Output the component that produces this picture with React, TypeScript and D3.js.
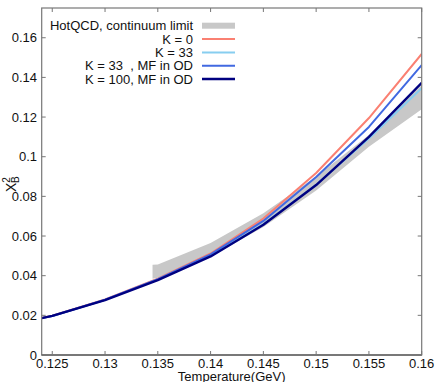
import React from "react";
import * as d3 from "d3";

const temps = [0.124, 0.125, 0.13, 0.135, 0.14, 0.145, 0.15, 0.155, 0.16];
const k0 = [0.0187, 0.0198, 0.028, 0.0385, 0.0512, 0.0688, 0.0918, 0.1195, 0.1518];
const k33 = [0.0186, 0.0197, 0.0278, 0.038, 0.05, 0.066, 0.0858, 0.1092, 0.1346];
const k33mf = [0.0186, 0.0197, 0.0279, 0.0382, 0.0507, 0.0676, 0.0898, 0.115, 0.1462];
const k100mf = [0.0186, 0.0197, 0.0277, 0.0378, 0.0497, 0.0657, 0.0857, 0.11, 0.1372];

const bandT = [0.1345, 0.135, 0.14, 0.145, 0.15, 0.155, 0.16];
const bandHi = [0.0455, 0.0457, 0.0565, 0.0715, 0.09, 0.111, 0.136];
const bandLo = [0.0385, 0.039, 0.0495, 0.0645, 0.083, 0.105, 0.124];

const xTicks = [0.125, 0.13, 0.135, 0.14, 0.145, 0.15, 0.155, 0.16];
const yTicks = [0, 0.02, 0.04, 0.06, 0.08, 0.1, 0.12, 0.14, 0.16];

const seriesNames = ["K = 0", "K = 33", "K = 33  , MF in OD", "K = 100, MF in OD"];
const seriesColors = ["#fa8072", "#87cef0", "#4169e1", "#000080"];
const bandName = "HotQCD, continuum limit";

export default function App() {
  const W = 436, H = 382;
  const left = 41.7, right = 421.7, top = 8, bottom = 355;
  const x = d3.scaleLinear().domain([0.124, 0.16]).range([left, right]);
  const y = d3.scaleLinear().domain([0, 0.175]).range([bottom, top]);
  const line = d3.line<[number, number]>().x(d => x(d[0])).y(d => y(d[1]));
  const area = d3.area<number>()
    .x((_, i) => x(bandT[i]))
    .y0((_, i) => y(bandLo[i]))
    .y1((_, i) => y(bandHi[i]));
  const series = [k0, k33, k33mf, k100mf];
  const font = "Liberation Sans, Arial, Helvetica, sans-serif";
  const axisColor = "#777";
  const legRows = [25.7, 39.1, 52.4, 65.7, 79];
  return (
    <svg width={W} height={H} style={{ position: "absolute", left: 0, top: 0 }} fontFamily={font}>
      <defs>
        <clipPath id="plot">
          <rect x={left} y={top} width={right - left} height={bottom - top} />
        </clipPath>
      </defs>
      <rect x={0} y={0} width={W} height={H} fill="#fff" />
      <g clipPath="url(#plot)">
        <path d={area(bandT) || ""} fill="#c8c8c8" />
        {series.map((s, i) => (
          <path key={i} d={line(temps.map((t, j) => [t, s[j]] as [number, number])) || ""}
            fill="none" stroke={seriesColors[i]} strokeWidth={i === 3 ? 2.4 : 2} strokeLinejoin="round" />
        ))}
      </g>
      {/* frame */}
      <rect x={left} y={top} width={right - left} height={bottom - top} fill="none" stroke={axisColor} strokeWidth={1.2} />
      <line x1={left} x2={right} y1={bottom} y2={bottom} stroke="#444" strokeWidth={1.2} />
      {/* x ticks */}
      {xTicks.map(t => (
        <g key={"x" + t}>
          <line x1={x(t)} x2={x(t)} y1={bottom} y2={bottom - 4} stroke={axisColor} />
          <line x1={x(t)} x2={x(t)} y1={top} y2={top + 4} stroke={axisColor} />
          <text x={x(t)} y={368} fontSize={13} textAnchor="middle" fill="#111">{String(t)}</text>
        </g>
      ))}
      {yTicks.map(t => (
        <g key={"y" + t}>
          <line x1={left} x2={left + 4} y1={y(t)} y2={y(t)} stroke={axisColor} />
          <line x1={right} x2={right - 4} y1={y(t)} y2={y(t)} stroke={axisColor} />
          <text x={37} y={y(t) + 4.5} fontSize={13} textAnchor="end" fill="#111">{String(t)}</text>
        </g>
      ))}
      <text x={x(0.142)} y={381} fontSize={13} textAnchor="middle" fill="#111">Temperature(GeV)</text>
      <text transform="rotate(-90)" x={-192} y={15.5} fontSize={14} fill="#111">
        X<tspan fontSize={10} dy={-6}>2</tspan><tspan fontSize={10} dx={-5.8} dy={9}>B</tspan>
      </text>
      {/* legend */}
      <text x={193} y={legRows[0] + 4.5} fontSize={13} textAnchor="end" fill="#111">{bandName}</text>
      <rect x={202} y={legRows[0] - 3} width={33} height={6} fill="#c8c8c8" />
      {seriesNames.map((n, i) => (
        <g key={n}>
          <text x={193} y={legRows[i + 1] + 4.5} fontSize={13} textAnchor="end" fill="#111" style={{ whiteSpace: "pre" }}>{n}</text>
          <line x1={202} x2={235} y1={legRows[i + 1]} y2={legRows[i + 1]} stroke={seriesColors[i]} strokeWidth={i === 3 ? 2.4 : 2} />
        </g>
      ))}
    </svg>
  );
}
